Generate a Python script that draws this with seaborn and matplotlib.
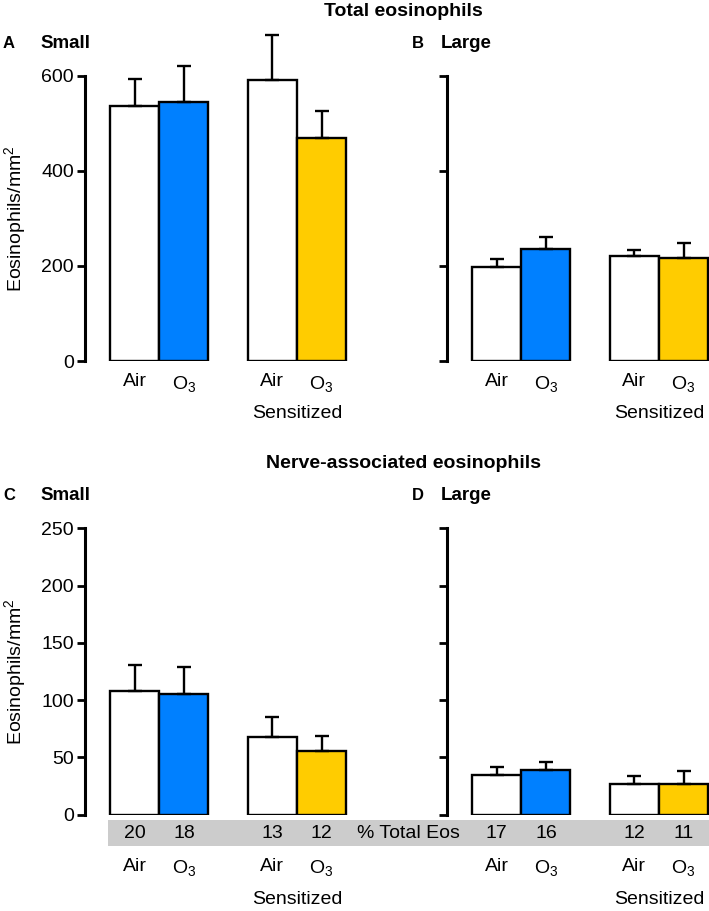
import numpy as np
import pandas as pd
import matplotlib
matplotlib.use("Agg")
import matplotlib.pyplot as plt
import seaborn as sns
from matplotlib.transforms import blended_transform_factory
from matplotlib.patches import Rectangle

# ---------------- data ----------------
groups = ["Air", "O3", "Sens Air", "Sens O3"]
xpos = [0.0, 1.0, 2.8, 3.8]
tick_labels = ["Air", r"O$_3$", "Air", r"O$_3$"]
colors = ["#ffffff", "#0080ff", "#ffffff", "#ffcc00"]

total_small = [536, 546, 592, 469]
total_small_err = [58, 75, 94, 57]
total_large = [197, 236, 222, 216]
total_large_err = [18, 26, 12, 33]
nerve_small = [108, 105, 68, 56]
nerve_small_err = [23, 24, 17, 13]
nerve_large = [35, 39, 27, 27]
nerve_large_err = [7, 7, 7, 11]
pct_small = [20, 18, 13, 12]
pct_large = [17, 16, 12, 11]

# ---------------- style ----------------
sns.set_style("ticks")
plt.rcParams["font.family"] = ["Liberation Sans", "DejaVu Sans"]
plt.rcParams["mathtext.fontset"] = "custom"
plt.rcParams["mathtext.rm"] = "Liberation Sans"
plt.rcParams["mathtext.it"] = "Liberation Sans:italic"
plt.rcParams["mathtext.bf"] = "Liberation Sans:bold"
plt.rcParams["mathtext.default"] = "regular"
for k in ["text.color", "axes.labelcolor", "xtick.color", "ytick.color", "axes.edgecolor"]:
    plt.rcParams[k] = "black"

FS = 14
W, H = 709, 911
fig = plt.figure(figsize=(W / 100, H / 100), dpi=100)

def fx(px):
    return px / W

def fy(py):
    return 1 - py / H

XL = (-1.01, 4.34)
axw = (XL[1] - XL[0]) * 49.2 / W

def panel(left_px, bottom_px, top_px, vals, errs, ylim, yticks, show_labels,
          tick_pad, ylabel):
    ax = fig.add_axes([fx(left_px), fy(bottom_px), axw, (bottom_px - top_px) / H])
    df = pd.DataFrame({"x": xpos, "y": vals, "g": groups})
    sns.barplot(data=df, x="x", y="y", hue="g", palette=colors, native_scale=True,
                dodge=False, width=1.0, edgecolor="black", linewidth=1.7,
                errorbar=None, legend=False, ax=ax, saturation=1)
    eb = ax.errorbar(xpos, vals, yerr=[np.zeros(len(errs)), errs], fmt="none",
                     ecolor="black", elinewidth=1.7, capsize=5, capthick=1.7, zorder=1)
    for art in eb.lines[1] + eb.lines[2]:
        art.set_clip_on(False)
    ax.set_xlim(*XL)
    ax.set_ylim(*ylim)
    ax.set_yticks(yticks)
    if show_labels:
        ax.set_yticklabels([str(t) for t in yticks], fontsize=FS)
    else:
        ax.set_yticklabels([])
    ax.set_xticks(xpos)
    ax.set_xticklabels(tick_labels, fontsize=FS)
    ax.tick_params(axis="x", length=0, pad=tick_pad)
    ax.tick_params(axis="y", length=6, width=2, direction="out", pad=2, colors="black")
    for s in ["top", "right", "bottom"]:
        ax.spines[s].set_visible(False)
    ax.spines["left"].set_linewidth(2.2)
    ax.spines["left"].set_color("black")
    ax.set_xlabel("")
    if ylabel:
        ax.set_ylabel(r"Eosinophils/mm$^2$", fontsize=FS)
        ax.yaxis.set_label_coords((28 - left_px) / (axw * W), 0.5)
    else:
        ax.set_ylabel("")
    ax.patch.set_alpha(0)
    return ax

axA = panel(85, 361, 76, total_small, total_small_err, (0, 600), [0, 200, 400, 600], True, 9, True)
axB = panel(447, 361, 76, total_large, total_large_err, (0, 600), [0, 200, 400, 600], False, 9, False)
axC = panel(85, 814.7, 528.3, nerve_small, nerve_small_err, (0, 250), [0, 50, 100, 150, 200, 250], True, 31, True)
axD = panel(447, 814.7, 528.3, nerve_large, nerve_large_err, (0, 250), [0, 50, 100, 150, 200, 250], False, 31, False)

# "Sensitized" labels
for ax, ypx in [(axA, 414), (axB, 414), (axC, 899), (axD, 899)]:
    tr = blended_transform_factory(ax.transData, fig.transFigure)
    ax.text((xpos[2] + xpos[3]) / 2, fy(ypx), "Sensitized", transform=tr,
            ha="center", va="center", fontsize=FS)

# gray band with % of total eosinophils
fig.patches.append(Rectangle((fx(108), fy(846)), fx(709) - fx(108), (846 - 820) / H,
                             transform=fig.transFigure, facecolor="#cccccc",
                             edgecolor="none", zorder=-5))
for ax, pcts in [(axC, pct_small), (axD, pct_large)]:
    tr = blended_transform_factory(ax.transData, fig.transFigure)
    for x, p in zip(xpos, pcts):
        ax.text(x, fy(834), str(p), transform=tr, ha="center", va="center", fontsize=FS,
                clip_on=False, zorder=10)
fig.text(fx(408), fy(834), "% Total Eos", ha="center", va="center", fontsize=FS, zorder=10)

# titles and panel labels
fig.text(fx(403), fy(12), "Total eosinophils", ha="center", va="center",
         fontsize=FS, fontweight="bold")
fig.text(fx(403), fy(464), "Nerve-associated eosinophils", ha="center", va="center",
         fontsize=FS, fontweight="bold")
for lx, ly, letter, nx, name in [(3, 43, "A", 40, "Small"), (412, 43, "B", 441, "Large"),
                                 (3, 496, "C", 40, "Small"), (412, 496, "D", 441, "Large")]:
    fig.text(fx(lx), fy(ly), letter, ha="left", va="center", fontsize=12, fontweight="bold")
    fig.text(fx(nx), fy(ly), name, ha="left", va="center", fontsize=13.5, fontweight="bold")

fig.savefig("out.png", dpi=100)
